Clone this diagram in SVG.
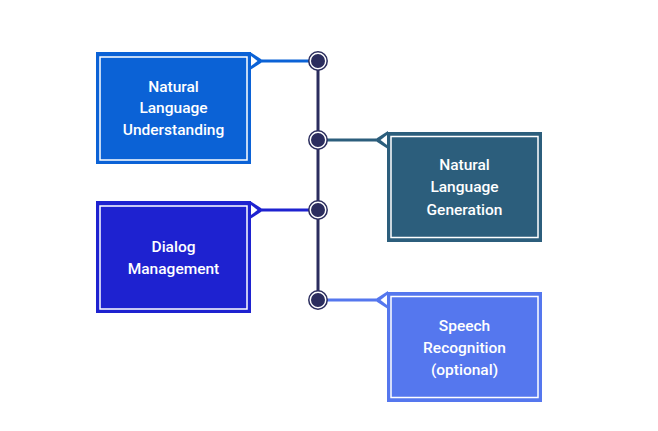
<svg xmlns="http://www.w3.org/2000/svg" width="658" height="431" viewBox="0 0 658 431">
<style>
.inner{fill:none;stroke:#fff;stroke-width:1.5}
.lbl{font-family:Roboto,"Liberation Sans",sans-serif;font-weight:500;font-size:15.5px;fill:#fff;text-anchor:middle}
.dot{fill:#2b2d5e;stroke:#fff;stroke-width:2}
.ring{fill:none;stroke:#2b2d5e;stroke-width:1.5}
</style>
<rect width="658" height="431" fill="#fff"/>
<g id="connectors">
<line x1="318" y1="61" x2="318" y2="300" stroke="#2b2d5e" stroke-width="3"/>
<line x1="262" y1="61" x2="318" y2="61" stroke="#0b62d6" stroke-width="3"/>
<line x1="318" y1="140" x2="376" y2="140" stroke="#2c5e7c" stroke-width="3"/>
<line x1="262" y1="210" x2="318" y2="210" stroke="#1e22d0" stroke-width="3"/>
<line x1="318" y1="300" x2="376" y2="300" stroke="#5577ee" stroke-width="3"/>
<g><circle cx="318" cy="61" r="8" class="dot"/><circle cx="318" cy="61" r="9.2" class="ring"/></g>
<g><circle cx="318" cy="140" r="8" class="dot"/><circle cx="318" cy="140" r="9.2" class="ring"/></g>
<g><circle cx="318" cy="210" r="8" class="dot"/><circle cx="318" cy="210" r="9.2" class="ring"/></g>
<g><circle cx="318" cy="300" r="8" class="dot"/><circle cx="318" cy="300" r="9.2" class="ring"/></g>
</g>
<g id="nlu">
<rect x="96" y="52" width="155" height="112" fill="#0b62d6"/>
<polygon points="250,52 264,61 250,70" fill="#0b62d6"/>
<polygon points="251,56 257.5,61 251,66" fill="#fff"/>
<rect x="100" y="57" width="147" height="103" class="inner"/>
<text class="lbl" x="173.5" y="91.5">Natural</text>
<text class="lbl" x="173.5" y="113">Language</text>
<text class="lbl" x="173.5" y="134.5">Understanding</text>
</g>
<g id="nlg">
<rect x="387" y="132" width="155" height="110" fill="#2c5e7c"/>
<polygon points="388,131 374,140 388,149" fill="#2c5e7c"/>
<polygon points="387,135 380.5,140 387,145" fill="#fff"/>
<rect x="391" y="136.5" width="147" height="101" class="inner"/>
<text class="lbl" x="464.5" y="169.5">Natural</text>
<text class="lbl" x="464.5" y="192">Language</text>
<text class="lbl" x="464.5" y="214.5">Generation</text>
</g>
<g id="dm">
<rect x="96" y="201" width="155" height="112" fill="#1e22d0"/>
<polygon points="250,201 264,210 250,219" fill="#1e22d0"/>
<polygon points="251,205 257.5,210 251,215" fill="#fff"/>
<rect x="100" y="206" width="147" height="103" class="inner"/>
<text class="lbl" x="173.5" y="251.5">Dialog</text>
<text class="lbl" x="173.5" y="273.5">Management</text>
</g>
<g id="sr">
<rect x="387" y="292" width="155" height="110" fill="#5577ee"/>
<polygon points="388,291 374,300 388,309" fill="#5577ee"/>
<polygon points="387,295 380.5,300 387,305" fill="#fff"/>
<rect x="391" y="296.5" width="147" height="101" class="inner"/>
<text class="lbl" x="464.5" y="330.5">Speech</text>
<text class="lbl" x="464.5" y="352.5">Recognition</text>
<text class="lbl" x="464.5" y="374.5">(optional)</text>
</g>
</svg>
